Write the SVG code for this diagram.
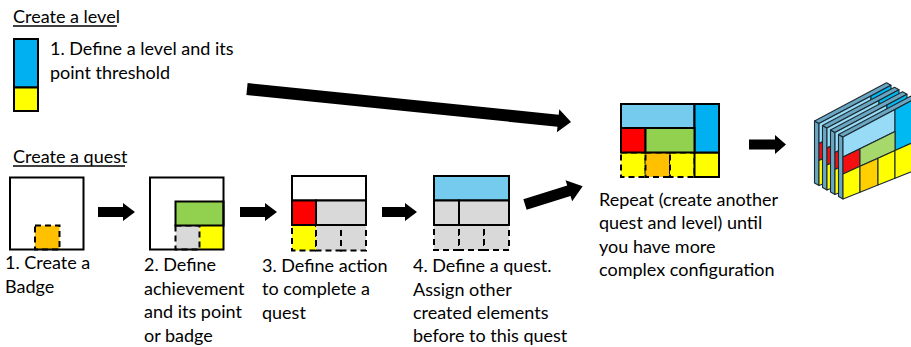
<svg xmlns="http://www.w3.org/2000/svg" xmlns:xlink="http://www.w3.org/1999/xlink" width="911" height="347" viewBox="0 0 911 347">
<style>
text{font-family:Lato,"Liberation Sans",sans-serif;font-size:18px;fill:#000}
.s{stroke:#000;stroke-width:2}
.d{stroke:#000;stroke-width:2;stroke-dasharray:6 4}
.n{stroke:none}
.lb{fill:#75cbee}.bl{fill:#00b0f0}.rd{fill:#ff0000}.gr{fill:#92d050}.ye{fill:#ffff00}.or{fill:#ffc000}.gy{fill:#d9d9d9}.wh{fill:#fff}
.arr{fill:#000}
.p{stroke:#1c2b33;stroke-width:1.1;stroke-linejoin:round}
.rim{fill:#6aa5c2}
.plb{fill:#97dbf7}.pbl{fill:#00b9f2}.prd{fill:#f41010}.pgr{fill:#a6d86b}.pye{fill:#ffff00}.por{fill:#ffcf00}
</style>
<defs>
<g id="panel">
<polygon class="p rim" points="843,137 843,199 838.5,196.5 838.5,134.5"/>
<polygon class="p rim" points="843,137 915,98.84 910.5,96.34 838.5,134.5"/>
<polygon class="p plb" points="843,137 895,109.44 895,131.52 843,157"/>
<polygon class="p pbl" points="895,109.44 915,98.84 915,141.6 895,150.6"/>
<polygon class="p prd" points="843,157 860,148.67 860,166.35 843,174"/>
<polygon class="p pgr" points="860,148.67 895,131.52 895,150.6 860,166.35"/>
<polygon class="p pye" points="843,174 860,166.35 860,192.2 843,199"/>
<polygon class="p por" points="860,166.35 878,158.25 878,185 860,192.2"/>
<polygon class="p pye" points="878,158.25 895,150.6 895,178.2 878,185"/>
<polygon class="p pye" points="895,150.6 915,141.6 915,170.2 895,178.2"/>
</g>
</defs>

<g id="heading-level">
<text x="13" y="23">Create a level</text>
<line x1="13" y1="26" x2="117" y2="26" stroke="#000" stroke-width="1.4"/>
</g>
<g id="level">
<rect class="s bl" x="14" y="39" width="24" height="48.5"/>
<rect class="s ye" x="14" y="87.5" width="24" height="23.5"/>
<text x="50" y="55">1. Define a level and its</text>
<text x="50" y="78.5">point threshold</text>
</g>

<g id="heading-quest">
<text x="13" y="163">Create a quest</text>
<line x1="13" y1="166" x2="125" y2="166" stroke="#000" stroke-width="1.4"/>
</g>

<g id="step1">
<rect class="d or" x="35" y="225.5" width="24.5" height="24"/>
<rect class="s" fill="none" x="10" y="177.5" width="73.5" height="72"/>
<text x="5" y="269">1. Create a</text>
<text x="5" y="292.5">Badge</text>
</g>

<g id="step2">
<rect class="n ye" x="199.5" y="225.5" width="24" height="24"/>
<rect class="d gy" x="175.5" y="225.5" width="24" height="24"/>
<rect class="s gr" x="175.5" y="201.5" width="48" height="24"/>
<rect class="s" fill="none" x="150" y="177.5" width="73.5" height="72"/>
<text x="144" y="271">2. Define</text>
<text x="144" y="294.5">achievement</text>
<text x="144" y="318">and its point</text>
<text x="144" y="341.5">or badge</text>
</g>

<g id="step3">
<rect class="d ye" x="292" y="225" width="24" height="25.5"/>
<rect class="d gy" x="316" y="225" width="25" height="25.5"/>
<rect class="d gy" x="341" y="225" width="25" height="25.5"/>
<rect class="s wh" x="292" y="176" width="74" height="24.5"/>
<rect class="s rd" x="292" y="200.5" width="24" height="24.5"/>
<rect class="s gy" x="316" y="200.5" width="50" height="24.5"/>
<text x="262" y="271.5">3. Define action</text>
<text x="262" y="295">to complete a</text>
<text x="262" y="318.5">quest</text>
</g>

<g id="step4">
<rect class="d gy" x="434" y="225" width="25" height="25"/>
<rect class="d gy" x="459" y="225" width="25" height="25"/>
<rect class="d gy" x="484" y="225" width="25" height="25"/>
<rect class="s lb" x="434" y="176" width="75" height="24.5"/>
<rect class="s gy" x="434" y="200.5" width="25" height="24.5"/>
<rect class="s gy" x="459" y="200.5" width="50" height="24.5"/>
<text x="413" y="272">4. Define a quest.</text>
<text x="413" y="295.5">Assign other</text>
<text x="413" y="318.5">created elements</text>
<text x="413" y="342">before to this quest</text>
</g>

<g id="repeat">
<rect class="d ye" x="621" y="152.5" width="24.5" height="24.5"/>
<rect class="d or" x="645.5" y="152.5" width="24.5" height="24.5"/>
<rect class="d ye" x="670" y="152.5" width="24.5" height="24.5"/>
<rect class="s ye" x="694.5" y="152.5" width="24.5" height="24.5"/>
<rect class="s lb" x="621" y="104" width="73.5" height="24"/>
<rect class="s bl" x="694.5" y="104" width="24.5" height="48.5"/>
<rect class="s rd" x="621" y="128" width="24.5" height="24.5"/>
<rect class="s gr" x="645.5" y="128" width="49" height="24.5"/>
<text x="599" y="205.5">Repeat (create another</text>
<text x="599" y="229">quest and level) until</text>
<text x="599" y="252.5">you have more</text>
<text x="599" y="276">complex configuration</text>
</g>

<g id="stack">
<use xlink:href="#panel" transform="translate(-24,-13.5)"/>
<use xlink:href="#panel" transform="translate(-16,-9)"/>
<use xlink:href="#panel" transform="translate(-8,-4.5)"/>
<use xlink:href="#panel"/>
</g>

<g id="connectors">
<polygon class="arr" points="98,207 123,207 123,203 135,212 123,221 123,217 98,217"/>
<polygon class="arr" points="240,207 265,207 265,203 277,212 265,221 265,217 240,217"/>
<polygon class="arr" points="382,207 405,207 405,203 417,212 405,221 405,217 382,217"/>
<polygon class="arr" points="749,139.5 775,139.5 775,135 786,144.5 775,154 775,149.5 749,149.5"/>
<polygon class="arr" transform="translate(247,89) rotate(5.82)" points="0,-6 312.7,-6 312.7,-11.5 325.7,0 312.7,11.5 312.7,6 0,6"/>
<polygon class="arr" transform="translate(525,204.5) rotate(-17.5)" points="0,-5.5 46,-5.5 46,-11 60.5,0 46,11 46,5.5 0,5.5"/>
</g>
</svg>
